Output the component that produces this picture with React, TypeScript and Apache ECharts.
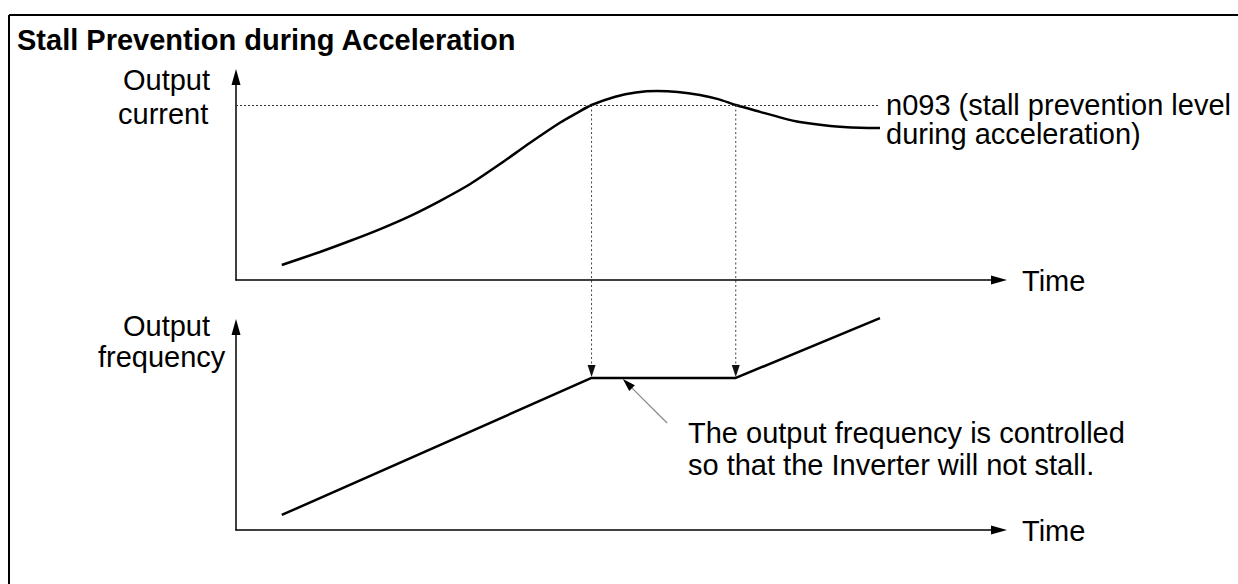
import React, { useEffect, useRef } from "react";
import * as echarts from "echarts";

const TITLE = "Stall Prevention during Acceleration";

// Output current vs time (time and value in axis units 0..100)
const currentTimes = [6.0, 11.0, 14.9, 18.9, 22.8, 26.7, 30.7, 34.6, 38.5, 42.5, 44.6, 46.6, 49.7, 52.4, 55.2, 57.9, 60.8, 63.2, 65.5, 68.7, 71.3, 73.9, 77.9, 81.8, 84.4];
const currentValues = [7.4, 13.8, 19.2, 25.1, 31.5, 38.9, 47.3, 57.1, 67.5, 77.6, 82.1, 86.2, 90.3, 92.4, 93.1, 92.6, 91.1, 89.1, 86.2, 82.8, 80.1, 77.8, 75.9, 75.0, 74.9];

// Output frequency vs time
const freqTimes = [6.0, 46.6, 65.5, 84.4];
const freqValues = [7.4, 74.9, 74.9, 104.4];

// Stall prevention level and the times at which the current crosses it
const stallLevel = 86.2;
const stallTimes = [46.6, 65.5];
const levelLineEnd = 84.4;

// Annotation pointer (in frequency-chart units)
const pointerTail = [56.5, 52.7];
const pointerTip = [50.7, 74.4];

const currentAxisLabel = ["Output", "current"];
const freqAxisLabel = ["Output", "frequency"];
const timeLabel = "Time";
const levelLabel = ["n093 (stall prevention level", "during acceleration)"];
const noteLabel = ["The output frequency is controlled", "so that the Inverter will not stall."];

const FONT = "'Liberation Sans', Arial, Helvetica, sans-serif";

export default function App() {
  const ref = useRef<HTMLDivElement>(null);

  useEffect(() => {
    const chart = echarts.init(ref.current!, null, { renderer: "svg" });

    const axisLine = () => ({
      show: true,
      onZero: false,
      symbol: ["none", "triangle"],
      symbolSize: [9, 16],
      lineStyle: { color: "#000", width: 1.5 },
    });
    const mkAxis = (i: number) => ({
      type: "value",
      gridIndex: i,
      min: 0,
      max: 100,
      axisLine: axisLine(),
      axisTick: { show: false },
      axisLabel: { show: false },
      splitLine: { show: false },
    });

    chart.setOption({
      animation: false,
      backgroundColor: "#ffffff",
      title: {
        text: TITLE,
        left: 17,
        top: 25,
        padding: 0,
        textStyle: { fontFamily: FONT, fontSize: 29, fontWeight: "bold", color: "#000" },
      },
      grid: [
        { left: 236, top: 77, width: 763, height: 203 },
        { left: 236, top: 327, width: 763, height: 203 },
      ],
      xAxis: [mkAxis(0), mkAxis(1)],
      yAxis: [mkAxis(0), mkAxis(1)],
      series: [
        {
          type: "line",
          xAxisIndex: 0,
          yAxisIndex: 0,
          data: currentTimes.map((t, i) => [t, currentValues[i]]),
          smooth: 0.25,
          symbol: "none",
          clip: false,
          lineStyle: { color: "#000", width: 2.5 },
          markLine: {
            silent: true,
            symbol: ["none", "none"],
            label: { show: false },
            lineStyle: { color: "#333", width: 1, type: [2, 2] },
            data: [[{ coord: [0, stallLevel] }, { coord: [levelLineEnd, stallLevel] }]],
          },
        },
        {
          type: "line",
          xAxisIndex: 1,
          yAxisIndex: 1,
          data: freqTimes.map((t, i) => [t, freqValues[i]]),
          symbol: "none",
          clip: false,
          lineStyle: { color: "#000", width: 2.5 },
        },
      ],
    });

    const px = (g: number, x: number, y: number) =>
      chart.convertToPixel({ gridIndex: g } as any, [x, y]) as number[];

    const arrowHead = (tip: number[], from: number[], len: number, w: number, fill: string) => {
      const dx = tip[0] - from[0];
      const dy = tip[1] - from[1];
      const d = Math.sqrt(dx * dx + dy * dy);
      const ux = dx / d;
      const uy = dy / d;
      const bx = tip[0] - ux * len;
      const by = tip[1] - uy * len;
      return {
        base: [bx, by],
        el: {
          type: "polygon",
          shape: {
            points: [
              [tip[0], tip[1]],
              [bx - uy * (w / 2), by + ux * (w / 2)],
              [bx + uy * (w / 2), by - ux * (w / 2)],
            ],
          },
          style: { fill, stroke: "none" },
          silent: true,
        },
      };
    };

    const graphics: any[] = [];

    // frame
    graphics.push({ type: "line", shape: { x1: 9, y1: 15, x2: 1238, y2: 15 }, style: { stroke: "#000", lineWidth: 2 } });
    graphics.push({ type: "line", shape: { x1: 9, y1: 15, x2: 9, y2: 584 }, style: { stroke: "#000", lineWidth: 2 } });

    // dotted drop lines with arrowheads
    stallTimes.forEach((t) => {
      const a = px(0, t, stallLevel);
      const b = px(1, t, freqValues[1]);
      const ah = arrowHead([b[0], b[1] - 1], a, 12, 8, "#111");
      graphics.push({
        type: "line",
        shape: { x1: a[0], y1: a[1], x2: ah.base[0], y2: ah.base[1] },
        style: { stroke: "#444", lineWidth: 1, lineDash: [2, 2.5] },
        silent: true,
      });
      graphics.push(ah.el);
    });

    // annotation pointer
    const tail = px(1, pointerTail[0], pointerTail[1]);
    const tip = px(1, pointerTip[0], pointerTip[1]);
    const ph = arrowHead(tip, tail, 13, 8, "#000");
    graphics.push({
      type: "line",
      shape: { x1: tail[0], y1: tail[1], x2: ph.base[0], y2: ph.base[1] },
      style: { stroke: "#888", lineWidth: 1.2 },
      silent: true,
    });
    graphics.push(ph.el);

    const txt = (text: string, x: number, y: number) => ({
      type: "text",
      x,
      y,
      style: {
        text,
        fontFamily: FONT,
        fontSize: 29,
        fill: "#000",
        align: "left",
        verticalAlign: "middle",
      },
      silent: true,
    });

    const topAxisY = px(0, 0, 0)[1];
    const botAxisY = px(1, 0, 0)[1];

    graphics.push(txt(currentAxisLabel[0], 123, 80));
    graphics.push(txt(currentAxisLabel[1], 118, 114));
    graphics.push(txt(freqAxisLabel[0], 123, 326));
    graphics.push(txt(freqAxisLabel[1], 98, 357));
    graphics.push(txt(timeLabel, 1022, topAxisY + 1));
    graphics.push(txt(timeLabel, 1022, botAxisY + 1));
    graphics.push(txt(levelLabel[0], 886, 105));
    graphics.push(txt(levelLabel[1], 886, 134));
    graphics.push(txt(noteLabel[0], 688, 433));
    graphics.push(txt(noteLabel[1], 688, 465));

    chart.setOption({ graphic: graphics });

    return () => chart.dispose();
  }, []);

  return (
    <div
      ref={ref}
      style={{ position: "fixed", left: 0, top: 0, width: 1238, height: 584, background: "#fff" }}
    />
  );
}
